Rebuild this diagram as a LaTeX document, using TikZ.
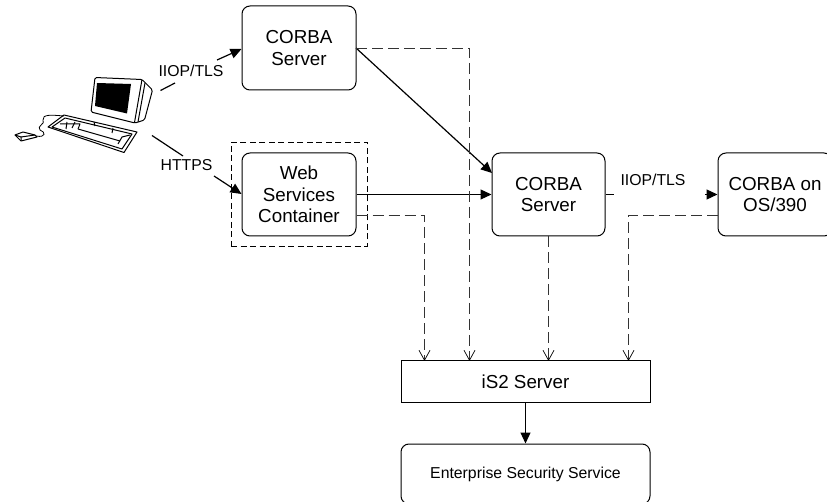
\documentclass[tikz,border=0pt]{standalone}
\usepackage{fontspec}
\setmainfont{Liberation Sans}
\usetikzlibrary{arrows.meta}
\tikzset{
  x=1pt,y=-1pt,
  box/.style={draw=black,line width=1pt,rounded corners=8pt,align=center,inner sep=0pt,font=\fontsize{18.8}{21.5}\selectfont},
  solidarrow/.style={draw=black,line width=1.2pt,-{Triangle[length=11pt,width=10pt]}},
  plainline/.style={draw=black,line width=1.2pt},
  dasharrow/.style={draw=black!80,line width=1.3pt,dash pattern=on 11pt off 5pt,-{Straight Barb[length=10pt,width=11pt,black,line width=0.7pt]}},
  lbl/.style={font=\fontsize{15.8}{18}\selectfont,inner sep=0pt},
}
\begin{document}
\begin{tikzpicture}
\useasboundingbox (0,0) rectangle (827,502);
\node[box,minimum width=114pt,minimum height=84pt] (corbaA) at (299,48) {CORBA\\Server};
\node[box,minimum width=114pt,minimum height=83pt] (web) at (299,194.5) {Web\\Services\\Container};
\node[box,minimum width=113pt,minimum height=83pt] (corbaB) at (548.5,194.5) {CORBA\\Server};
\node[box,minimum width=114pt,minimum height=83pt] (os) at (775,194.5) {CORBA on\\OS/390};
\node[draw=black,line width=1pt,inner sep=0pt,minimum width=249pt,minimum height=41pt,font=\fontsize{18.8}{21.5}\selectfont] (is2) at (525.5,381.5) {iS2 Server};
\node[box,minimum width=249pt,minimum height=60pt,font=\fontsize{15.8}{18}\selectfont] (ess) at (525.5,474) {Enterprise Security Service};
\node[draw=black,line width=0.9pt,dash pattern=on 6pt off 3.5pt,inner sep=0pt,minimum width=136pt,minimum height=104pt] (frame) at (299,194) {};
\node[lbl] (lblA) at (191,71) {IIOP/TLS};
\node[lbl] (lblB) at (186.5,165) {HTTPS};
\node[lbl] (lblC) at (653,180) {IIOP/TLS};
\coordinate (pcA) at (160.5,90.5);
\coordinate (pcB) at (152,135.5);
% solid connectors
\draw[plainline] (pcA) -- (175,83);
\draw[solidarrow] (217,60) -- (corbaA.west|-0,49);
\draw[plainline] (pcB) -- (183,156);
\draw[solidarrow] (214,176) -- (web.west|-0,194);
\draw[solidarrow] (356,48) -- (492,173);
\draw[solidarrow] (web.east) -- (corbaB.west);
\draw[plainline] (corbaB.east) -- (614,194.5);
\draw[solidarrow] (705,194.5) -- (os.west);
\draw[solidarrow] (is2.south) -- (ess.north);
% dashed connectors
\draw[dasharrow] (356,48.5) -- (469.5,48.5) -- (469.5,361);
\draw[dasharrow] (web.east|-0,215.5) -- (424.5,215.5) -- (424.5,361);
\draw[dasharrow] (corbaB.south) -- (548.5,361);
\draw[dasharrow] (os.west|-0,215.5) -- (628.5,215.5) -- (628.5,361);
% computer
\begin{scope}[line join=round,line width=1pt]
\draw[fill=white,rounded corners=1.5pt] (95,77.5) -- (142,79.5) -- (152.5,90) -- (144.5,120) -- (135,123) -- (91,112) -- cycle;
\draw (142,79.5) -- (134.5,122.5);
\draw (145,83) -- (138,122);
\fill[black] (97,83) -- (131,84) -- (127,113.5) -- (95,106) -- cycle;
\draw[fill=white] (48,127) -- (64,115) -- (137,132) -- (124,152.5) -- cycle;
\draw (52,127) -- (65,118) -- (132,134) -- (122,149) -- cycle;
\draw (60,124) -- (80,124) -- (78,129);
\draw (67,122) -- (66,129);
\draw (75,122) -- (72,128);
\draw (78,129) -- (120,141);
\draw (94,122) -- (95,126);
\draw (113,128) -- (112,133);
\draw (130,135) -- (122,137) -- (118,144);
\draw (15,135) -- (23,132) -- (35,135) -- (37,137) -- (21,141) -- cycle;
\draw (21,141) -- (21,137) -- (15,135);
\draw (21,137) -- (35,135);
\draw[line width=0.8pt] (36,136) .. controls (46,138) and (46,132) .. (40,130) .. controls (36,126) and (46,124) .. (43,120) .. controls (42,114) and (52,115) .. (64,116);
\end{scope}
\end{tikzpicture}
\end{document}
